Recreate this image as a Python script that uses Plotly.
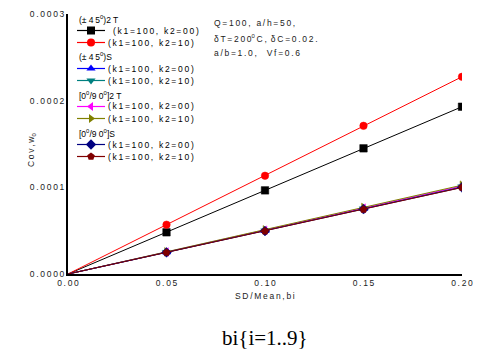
import plotly.graph_objects as go

# ---------------- data ----------------
x_vals = [0.00, 0.05, 0.10, 0.15, 0.20]

s45_2T_k00 = [0.0, 0.481e-4, 0.965e-4, 1.450e-4, 1.930e-4]
s45_2T_k10 = [0.0, 0.569e-4, 1.134e-4, 1.710e-4, 2.276e-4]
s45_S_k00 = [0.0, 0.252e-4, 0.500e-4, 0.755e-4, 1.010e-4]
s45_S_k10 = [0.0, 0.251e-4, 0.499e-4, 0.753e-4, 1.008e-4]
c090_2T_k00 = [0.0, 0.254e-4, 0.505e-4, 0.760e-4, 1.015e-4]
c090_2T_k10 = [0.0, 0.256e-4, 0.510e-4, 0.768e-4, 1.025e-4]
c090_S_k00 = [0.0, 0.249e-4, 0.496e-4, 0.748e-4, 1.000e-4]
c090_S_k10 = [0.0, 0.248e-4, 0.495e-4, 0.746e-4, 0.998e-4]

x_ticks = [0.00, 0.05, 0.10, 0.15, 0.20]
x_ticklabels = ["0.00", "0.05", "0.10", "0.15", "0.20"]
y_ticks = [0.0, 0.0001, 0.0002, 0.0003]
y_ticklabels = ["0.0000", "0.0001", "0.0002", "0.0003"]

group_titles = ["(± 45<sup>0</sup>)2 T", "(± 45<sup>0</sup>)S",
                "[0<sup>0</sup>/9 0<sup>0</sup>]2 T", "[0<sup>0</sup>/9 0<sup>0</sup>]S"]
series_labels = ["(k1=100, k2=00)", "(k1=100, k2=10)"]

series = [
    (s45_2T_k00, "#000000", "square"),
    (s45_2T_k10, "#FF0000", "circle"),
    (s45_S_k00, "#0000FF", "triangle-up"),
    (s45_S_k10, "#008080", "triangle-down"),
    (c090_2T_k00, "#FF00FF", "triangle-left"),
    (c090_2T_k10, "#808000", "triangle-right"),
    (c090_S_k00, "#000080", "diamond"),
    (c090_S_k10, "#800000", "pentagon"),
]

TS = "\u2009"


def sp(s):
    return TS.join(list(s))


FONT = "Liberation Sans, Arial, sans-serif"
W, H = 487, 357
ML, MR, MT, MB = 68, 25, 14, 83


def px(x):
    return (x - ML) / (W - ML - MR)


def py(y):
    return (H - MB - y) / (H - MT - MB)


fig = go.Figure()
for vals, col, sym in series:
    fig.add_trace(go.Scatter(
        x=x_vals, y=vals, mode="lines+markers",
        line=dict(color=col, width=1),
        marker=dict(symbol=sym, color=col, size=[0] + [7.5] * (len(vals) - 1),
                    opacity=1, line=dict(width=0.5, color=col)),
        showlegend=False, hoverinfo="skip"))

# ---------------- manual legend ----------------
leg_x0, leg_x1 = 77, 105
y = 19.0
ann = []
legend_x, legend_y, legend_sym, legend_col = [], [], [], []
shapes = []
for g in range(4):
    ann.append(dict(x=px(leg_x0), y=py(y), xref="paper", yref="paper",
                    text=group_titles[g].replace("45", "4" + TS + "5"),
                    showarrow=False, xanchor="left", yanchor="middle",
                    font=dict(family=FONT, size=8.5, color="#000")))
    y += 11.5
    for k in range(2):
        vals, col, sym = series[2 * g + k]
        shapes.append(dict(type="line", xref="paper", yref="paper", x0=px(leg_x0), x1=px(leg_x1),
                           y0=py(y), y1=py(y), line=dict(color=col, width=1.2)))
        legend_x.append(px((leg_x0 + leg_x1) / 2))
        legend_y.append(py(y))
        legend_sym.append(sym)
        legend_col.append(col)
        ann.append(dict(x=px(leg_x1 + (6 if (g == 0 and k == 0) else 1)), y=py(y),
                        xref="paper", yref="paper",
                        text=sp(series_labels[k]),
                        showarrow=False, xanchor="left", yanchor="middle",
                        font=dict(family=FONT, size=8.5, color="#000")))
        y += 12
    y += 2.5

fig.add_trace(go.Scatter(
    x=legend_x, y=legend_y, mode="markers", xaxis="x2", yaxis="y2",
    marker=dict(symbol=legend_sym, color=legend_col, size=8, opacity=1, line=dict(width=0)),
    showlegend=False, hoverinfo="skip", cliponaxis=False))

# info text
info = [sp("Q=100, a/h=50,"),
        "δ" + TS + "T" + TS + "=" + TS + "2" + TS + "0" + TS + "0<sup>0</sup>" + TS + "C" + TS + "," + TS + " δ" + TS + "C" + TS + "=" + TS + sp("0.02."),
        sp("a/b=1.0,  Vf=0.6")]
for i, t in enumerate(info):
    ann.append(dict(x=px(212), y=py(23 + i * 15), xref="paper", yref="paper", text=t,
                    showarrow=False, xanchor="left", yanchor="middle",
                    font=dict(family=FONT, size=8.5, color="#222")))

# axis titles
ann.append(dict(x=px(265), y=py(296), xref="paper", yref="paper", text=sp("SD/Mean,bi"),
                showarrow=False, xanchor="center", yanchor="middle",
                font=dict(family=FONT, size=8.5, color="#222")))
ann.append(dict(x=px(32), y=py(150), xref="paper", yref="paper", text=sp("Cov,w") + "<sub>0</sub>",
                showarrow=False, xanchor="center", yanchor="middle", textangle=-90,
                font=dict(family=FONT, size=8.5, color="#222")))

# caption below
ann.append(dict(x=px(265), y=py(338), xref="paper", yref="paper", text="bi{i=1..9}",
                showarrow=False, xanchor="center", yanchor="middle",
                font=dict(family="Liberation Serif, Times New Roman, serif", size=21, color="#000")))

fig.update_layout(
    width=W, height=H,
    margin=dict(l=ML, r=MR, t=MT, b=MB),
    paper_bgcolor="white", plot_bgcolor="white",
    font=dict(family=FONT, size=8.5, color="#222"),
    hovermode=False,
    xaxis=dict(range=[0, 0.2], tickvals=x_ticks, ticktext=[sp(t) for t in x_ticklabels],
               showgrid=False, zeroline=False, showline=True, linecolor="#000", linewidth=2,
               ticks="", tickfont=dict(size=8.5), automargin=False),
    yaxis=dict(range=[0, 0.0003], tickvals=y_ticks, ticktext=[sp(t) for t in y_ticklabels],
               showgrid=False, zeroline=False, showline=True, linecolor="#000", linewidth=2,
               ticks="", tickfont=dict(size=8.5), automargin=False),
    xaxis2=dict(overlaying="x", range=[0, 1], visible=False, fixedrange=True, automargin=False),
    yaxis2=dict(overlaying="y", range=[0, 1], visible=False, fixedrange=True, anchor="x2",
                automargin=False),
    annotations=ann, shapes=shapes,
)

fig.write_html("out.html", config={"displayModeBar": False, "staticPlot": True},
               post_script="document.body.style.margin='0';")
